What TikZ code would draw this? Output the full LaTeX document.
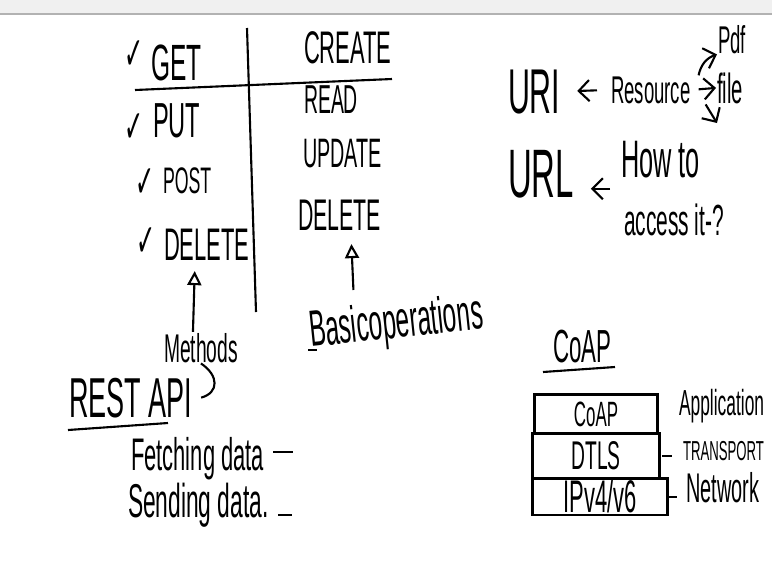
\documentclass[tikz,border=0pt]{standalone}
\usepackage{fontspec}
\usepackage{tikz}
\usetikzlibrary{arrows.meta, positioning}
\newfontfamily\hand{Liberation Sans}[FakeStretch=0.48]
\newfontfamily\sym{DejaVu Sans}[FakeStretch=0.5]

\begin{document}
\begin{tikzpicture}[x=0.01cm, y=-0.01cm, line width=0.6pt, >={Straight Barb[length=3pt]},
    hw/.style={inner sep=0pt, anchor=base west, font=\hand\fontsize{#1}{#1}\selectfont},
    tick/.style={inner sep=0pt, font=\sym\fontsize{13}{13}\selectfont},
    up/.style={-{Triangle[open, length=4pt, width=4pt]}},
    layer/.style={draw, inner sep=0pt, outer sep=0pt, font=\hand\fontsize{#1}{#1}\selectfont}]
    \useasboundingbox (0,0) rectangle (772,578);
    % Thanh công cụ phía trên
    \fill[gray!12] (0,0) rectangle (772,13);
    \draw[gray!60] (0,14) -- (772,14);

    % Bảng: phương thức | thao tác
    \draw (247,28) -- (256,312);
    \draw (135,90) -- (392,79);
    \node[tick] (chkget) at (134,55) {✓};
    \node[hw=14.5] (get) at (150,80) {GET};
    \node[hw=13] (create) at (303,63) {CREATE};
    \node[tick] (chkput) at (134,128) {✓};
    \node[hw=14] (put) at (152,137) {PUT};
    \node[hw=11.5] (read) at (303,113) {READ};
    \node[hw=11.7] (update) at (302,167) {UPDATE};
    \node[tick] (chkpost) at (145,183) {✓};
    \node[hw=10.5] (post) at (162,193) {POST};
    \node[hw=12.6] (delr) at (297,230) {DELETE};
    \node[tick] (chkdel) at (146,242) {✓};
    \node[hw=13] (dell) at (163,260) {DELETE};

    % Chú thích dưới bảng
    \node[hw=11.4] (methods) at (163,362) {Methods};
    \node[hw=14.5, rotate=6] (basic) at (310,347) {Basicoperations};
    \draw (308,350) -- (317,350);
    \draw[up] ([xshift=-0.8mm]methods.north) -- ([xshift=-1.2mm, yshift=-1mm]dell.south);
    \draw[up] ([xshift=1.4mm, yshift=1mm]delr.south |- basic.north) -- ([xshift=1.2mm, yshift=-1.3mm]delr.south);

    % REST API
    \node[hw=16] (rest) at (68,417) {REST API};
    \draw (68,430) -- (168,423);
    \draw (methods.south) .. controls +(18,12) and +(18,-5) .. ([xshift=0.8mm]rest.east);
    \node[hw=13] (fetch) at (130,470) {Fetching data};
    \draw (273,452) -- (293,452);
    \node[hw=13.5] (send) at (127,517) {Sending data.};
    \draw (278,515) -- (292,515);

    % URI và URL
    \node[hw=18] (uri) at (507,113) {URI};
    \node[hw=11] (res) at (610,103) {Resource};
    \node[hw=11] (pdf) at (717,53) {Pdf};
    \node[hw=12] (file) at (716,103) {file};
    \coordinate (more) at (717,123);
    \draw[->, shorten <=3.7pt, shorten >=4.5pt] (res.west) -- (uri.east);
    \draw[->] ([xshift=2pt]res.north east) to[bend left=30] (pdf.south west);
    \draw[->, shorten <=2pt] (res.east) -- (file.west);
    \draw[->] ([xshift=4pt]res.south east) -- (more);
    \node[hw=19.5] (url) at (507,197) {URL};
    \node[hw=15] (how) at (620,177) {How to};
    \node[hw=12.4] (access) at (623,235) {access it-?};
    \draw[->, shorten <=2.8pt, shorten >=4.5pt] ([yshift=-1.5mm]how.west |- url.east) -- ([yshift=-1.5mm]url.east);

    % Ngăn xếp CoAP
    \node[hw=13.2] (coap) at (552,362) {CoAP};
    \draw (543,372) -- (615,367);
    \node[layer=10, minimum width=1.23cm, minimum height=0.39cm] (coapbox) at (596,414) {CoAP};
    \node[layer=11.4, minimum width=1.27cm, minimum height=0.45cm, below=0pt of coapbox] (dtlsbox) {DTLS};
    \node[layer=13, minimum width=1.35cm, minimum height=0.36cm, below=0pt of dtlsbox, xshift=0.04cm] (ipbox) {IPv4/v6};
    \node[hw=10.3] (app) at (678,415) {Application};
    \node[hw=7.8] (trans) at (682,460) {TRANSPORT};
    \node[hw=11.8] (net) at (685,502) {Network};
    \draw[shorten <=0.8pt, shorten >=2.8pt] (dtlsbox.east) -- (trans.west |- dtlsbox.east);
    \draw[shorten >=2.3pt] (ipbox.east) -- (net.west |- ipbox.east);
\end{tikzpicture}
\end{document}
